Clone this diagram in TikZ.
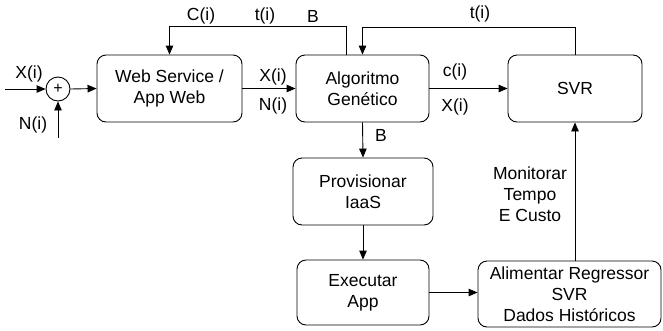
\documentclass[tikz,border=0pt]{standalone}
\usepackage{fontspec}
\setmainfont{Liberation Sans}
\usetikzlibrary{arrows.meta,positioning}

\tikzset{
  block/.style={draw, rounded corners=9pt, line width=0.9pt, align=center, inner sep=0pt},
  arr/.style={-{Triangle[length=9pt,width=7.5pt]}, line width=0.9pt},
  lbl/.style={inner sep=0pt, align=center}
}

\begin{document}
\begin{tikzpicture}[x=1pt,y=-1pt,font=\fontsize{17.5}{21}\selectfont]
\useasboundingbox (0,0) rectangle (663,330);

% Sum point and inputs
\node[draw, circle, line width=0.9pt, minimum size=24pt, inner sep=0pt, font=\fontsize{16}{16}\selectfont] (sum) at (58,89) {+};
\coordinate (xin) at (5,89);
\coordinate (nin) at (58,138);
\node[lbl] (xlbl) at (29,74) {X(i)};
\node[lbl] (nlbl) at (33,125) {N(i)};

% Blocks
\node[block, minimum width=145pt, minimum height=67pt] (web) at (169.5,88.5) {Web Service /\\App Web};
\node[block, minimum width=133pt, minimum height=67pt] (alg) at (362.5,88.5) {Algoritmo\\Genético};
\node[block, minimum width=134pt, minimum height=67pt] (svr) at (575,88.5) {SVR};
\node[block, minimum width=140pt, minimum height=67pt] (prov) at (363,191.5) {Provisionar\\IaaS};
\node[block, minimum width=132pt, minimum height=65pt] (exec) at (363,292.5) {Executar\\App};
\node[block, minimum width=183pt, minimum height=66pt] (alim) at (569.5,294) {Alimentar Regressor\\SVR\\Dados Históricos};

% Forward path
\draw[arr] (xin) -- (sum.west);
\draw[arr] (nin) -- (sum.south);
\draw[arr] (sum.east) -- (web.west);
\draw[arr] (web.east) -- (alg.west);
\draw[arr] (alg.east) -- (svr.west);
\draw[arr] (alg.south) -- (prov.north);
\draw[arr] (prov.south) -- (exec.north);
\draw[arr] (exec.east) -- (exec.east -| alim.west);
\draw[arr] (alim.north -| svr.south) -- (svr.south);

% Feedback loops
\draw[arr] ([xshift=-16pt]alg.north) |- ([yshift=28pt]web.north) -- (web.north);
\draw[arr] (svr.north) |- ([yshift=27pt]alg.north) -- (alg.north);

% Labels
\node[lbl] (ci) at (201,16) {C(i)};
\node[lbl] (ti) at (265,16) {t(i)};
\node[lbl] (bt) at (313,16) {B};
\node[lbl] (tsvr) at (480,14) {t(i)};
\node[lbl] (xw) at (273,77) {X(i)};
\node[lbl] (nw) at (273,106) {N(i)};
\node[lbl] (ca) at (455,72) {c(i)};
\node[lbl] (xa) at (455,107) {X(i)};
\node[lbl] (bd) at (381,135) {B};
\node[lbl] (mon) at (530,194) {Monitorar\\Tempo\\E Custo};
\end{tikzpicture}
\end{document}
